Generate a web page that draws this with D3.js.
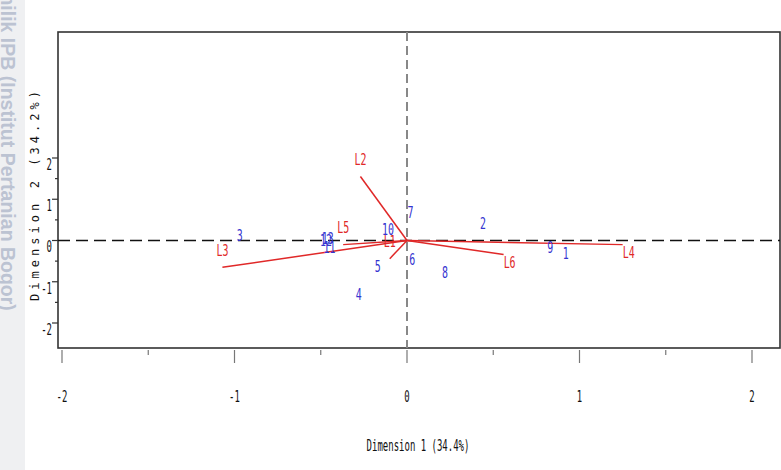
<!DOCTYPE html>
<html>
<head>
<meta charset="utf-8">
<script src="https://cdn.jsdelivr.net/npm/d3@7"></script>
<style>
  body { margin: 0; background: #fff; }
  svg { display: block; }
</style>
</head>
<body>
<div id="chart"></div>
<script>
// observations (blue numbers)
const pointLabels = ["1", "2", "3", "4", "5", "6", "7", "8", "9", "10", "11", "12", "13"];
const pointX = [0.92, 0.44, -0.97, -0.28, -0.17, 0.03, 0.02, 0.22, 0.83, -0.11, -0.45, -0.47, -0.46];
const pointY = [-0.32, 0.41, 0.12, -1.31, -0.63, -0.46, 0.68, -0.78, -0.17, 0.27, -0.17, 0.0, 0.04];

// variables (red vectors)
const vecLabels = ["L1", "L2", "L3", "L4", "L5", "L6"];
const vecX = [-0.10, -0.27, -1.07, 1.25, -0.37, 0.56];
const vecY = [-0.44, 1.55, -0.65, -0.10, -0.10, -0.34];

const xTicks = [-2, -1, 0, 1, 2];
const yTicks = [-2, -1, 0, 1, 2];
const xTitle = "Dimension 1 (34.4%)";
const yTitle = "Dimension 2 (34.2%)";
const watermark = "milik IPB (Institut Pertanian Bogor)";

const width = 781, height = 470;
const frame = { left: 58, top: 32, right: 780, bottom: 348 };

const svg = d3.select("#chart").append("svg")
  .attr("width", width)
  .attr("height", height);

// grey strip + watermark on the left
svg.append("rect")
  .attr("x", 0).attr("y", 0)
  .attr("width", 25).attr("height", height)
  .attr("fill", "#eff0f2");
svg.append("text")
  .attr("transform", "translate(1,-12) rotate(90)")
  .attr("font-family", "Liberation Sans, Arial, sans-serif")
  .attr("font-weight", "bold")
  .attr("font-size", 19.5)
  .attr("fill", "#bcc3d2")
  .text(watermark);

var x = d3.scaleLinear().domain([-2, 2]).range([62, 752]);
var y = d3.scaleLinear().domain([-2, 2]).range([323, 158]);

// frame
svg.append("rect")
  .attr("x", frame.left).attr("y", frame.top)
  .attr("width", frame.right - frame.left)
  .attr("height", frame.bottom - frame.top)
  .attr("fill", "none")
  .attr("stroke", "#333")
  .attr("stroke-width", 1.6);

// reference lines through origin
svg.append("line")
  .attr("x1", frame.left).attr("x2", frame.right)
  .attr("y1", y(0)).attr("y2", y(0))
  .attr("stroke", "#111")
  .attr("stroke-width", 1.5)
  .attr("stroke-dasharray", "12,6");
svg.append("line")
  .attr("x1", x(0)).attr("x2", x(0))
  .attr("y1", frame.top).attr("y2", frame.bottom)
  .attr("stroke", "#888")
  .attr("stroke-width", 2)
  .attr("stroke-dasharray", "9,5");

// x axis ticks
var xMinor = d3.range(-1.5, 2, 1);
svg.selectAll(".xmaj").data(xTicks).enter().append("line")
  .attr("x1", d => x(d)).attr("x2", d => x(d))
  .attr("y1", frame.bottom + 2).attr("y2", frame.bottom + 15)
  .attr("stroke", "#777").attr("stroke-width", 1.2);
svg.selectAll(".xmin").data(xMinor).enter().append("line")
  .attr("x1", d => x(d)).attr("x2", d => x(d))
  .attr("y1", frame.bottom + 2).attr("y2", frame.bottom + 7)
  .attr("stroke", "#777").attr("stroke-width", 1.2);

function narrowText(sel, size) {
  return sel.attr("font-family", "DejaVu Sans Mono, monospace")
    .attr("font-size", size)
    .attr("text-anchor", "middle")
    .attr("dominant-baseline", "central");
}

svg.selectAll(".xlab").data(xTicks).enter().append("text")
  .attr("transform", d => "translate(" + x(d) + "," + 397 + ") scale(0.6,1)")
  .call(narrowText, 15)
  .attr("fill", "#111")
  .text(d => d);

// y axis ticks
var yMinor = d3.range(-1.5, 2, 1);
svg.selectAll(".ymaj").data(yTicks).enter().append("line")
  .attr("x1", frame.left - 6).attr("x2", frame.left)
  .attr("y1", d => y(d)).attr("y2", d => y(d))
  .attr("stroke", "#333").attr("stroke-width", 1.2);
svg.selectAll(".ymin").data(yMinor).enter().append("line")
  .attr("x1", frame.left - 3).attr("x2", frame.left)
  .attr("y1", d => y(d)).attr("y2", d => y(d))
  .attr("stroke", "#333").attr("stroke-width", 1.2);
svg.selectAll(".ylab").data(yTicks).enter().append("text")
  .attr("transform", d => "translate(" + 52 + "," + (y(d) + 7) + ") scale(0.6,1)")
  .call(narrowText, 15)
  .attr("text-anchor", "end")
  .attr("fill", "#111")
  .text(d => d);

// axis titles
svg.append("text")
  .attr("transform", "translate(418,446) scale(0.6,1)")
  .call(narrowText, 15)
  .attr("fill", "#111")
  .text(xTitle);
svg.append("text")
  .attr("transform", "translate(35,196) rotate(-90)")
  .call(narrowText, 12)
  .attr("fill", "#111")
  .attr("textLength", 210)
  .attr("lengthAdjust", "spacing")
  .text(yTitle);

// vectors
var vectors = vecLabels.map((l, i) => ({ label: l, x: vecX[i], y: vecY[i] }));
svg.selectAll(".vec").data(vectors).enter().append("line")
  .attr("x1", x(0)).attr("y1", y(0))
  .attr("x2", d => x(d.x)).attr("y2", d => y(d.y))
  .attr("stroke", "#e02828")
  .attr("stroke-width", 1.5);
svg.selectAll(".veclab").data(vectors).enter().append("text")
  .attr("transform", d => {
    var tx = x(d.x), ty = y(d.y);
    if (d.x < 0) { ty -= 17; } else { tx += 6; ty += 8; }
    return "translate(" + tx + "," + ty + ") scale(0.62,1)";
  })
  .call(narrowText, 16)
  .attr("fill", "#e02828")
  .text(d => d.label);

// observation labels
var points = pointLabels.map((l, i) => ({ label: l, x: pointX[i], y: pointY[i] }));
svg.selectAll(".pt").data(points).enter().append("text")
  .attr("transform", d => "translate(" + x(d.x) + "," + y(d.y) + ") scale(0.62,1)")
  .call(narrowText, 16)
  .attr("fill", "#3434d0")
  .text(d => d.label);
</script>
</body>
</html>
